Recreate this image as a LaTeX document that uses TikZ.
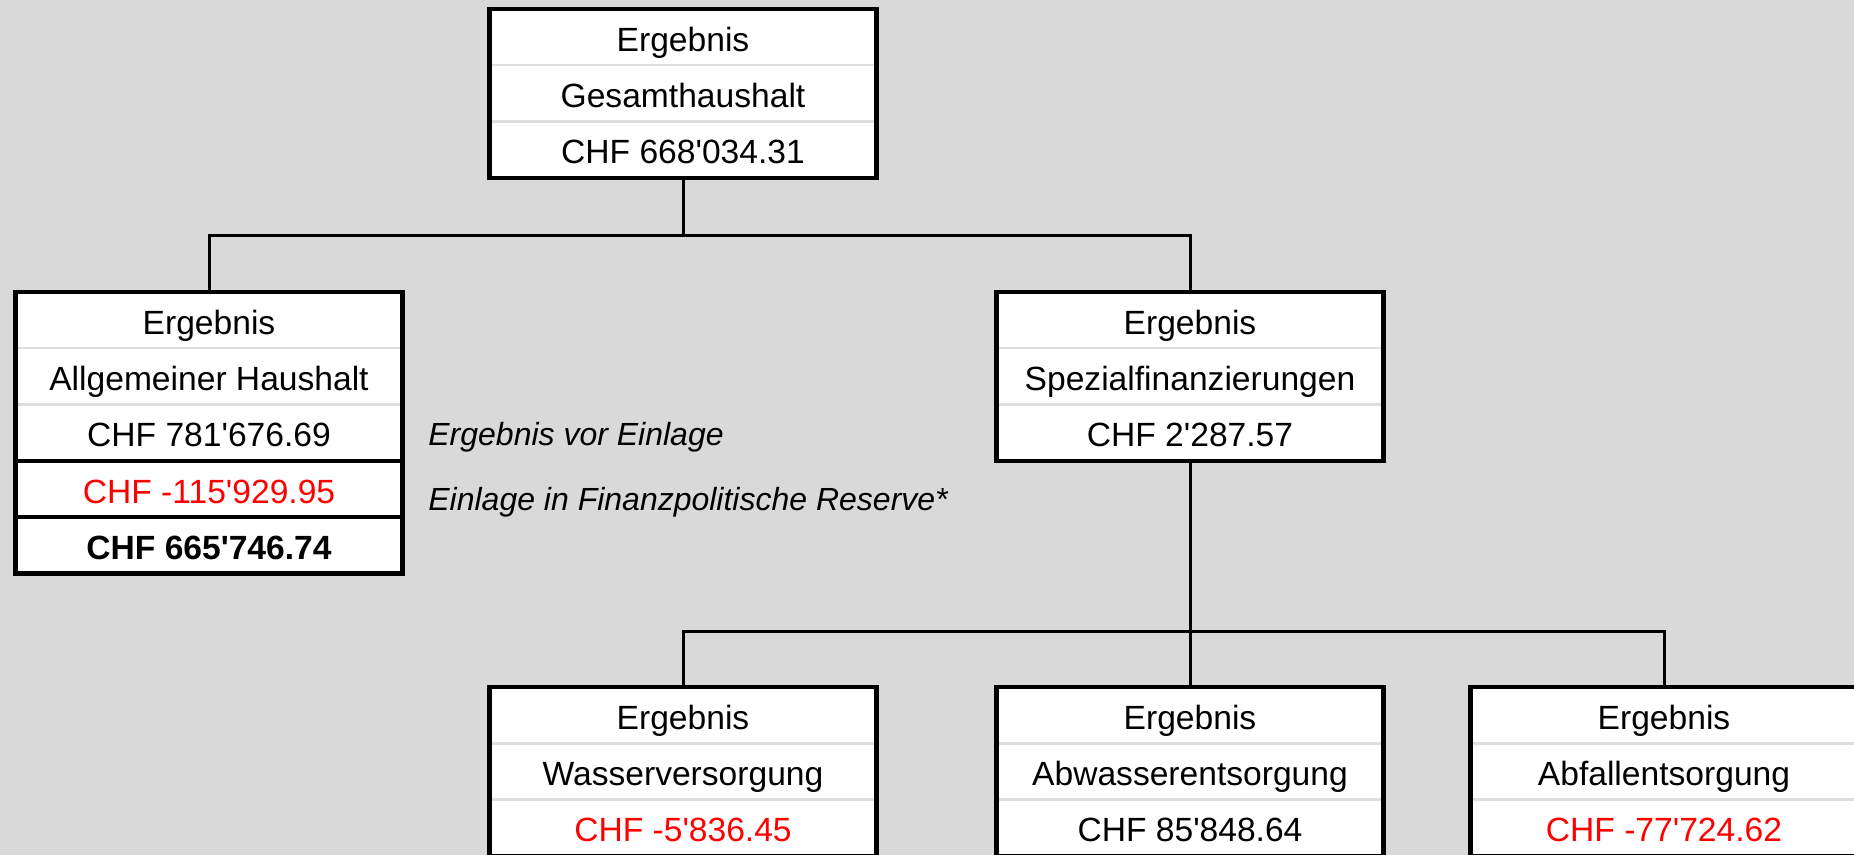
\documentclass[tikz,border=0pt]{standalone}
\usepackage{fontspec}
\setmainfont{Liberation Sans}[Ligatures=TeXOff]
\usetikzlibrary{positioning}
\definecolor{bggray}{HTML}{D9D9D9}
\definecolor{sepgray}{HTML}{DEDEDE}
\definecolor{minusred}{HTML}{FF0000}

\begin{document}
\begin{tikzpicture}[x=0.5pt,y=-0.5pt,
    cell/.style={draw=sepgray,line width=1.2pt,fill=white,minimum width=193.5pt,minimum height=28.15pt,inner sep=0pt,outer sep=0pt,text height=17pt,text depth=3pt,font=\fontsize{16.8}{20}\selectfont},
    neg/.style={cell,text=minusred},
    note/.style={inner sep=0pt,text height=16pt,text depth=3pt,font=\fontsize{16}{19}\selectfont\itshape},
    boxframe/.style={draw=black,line width=2.3pt},
    link/.style={draw=black,line width=1.5pt}]

            \useasboundingbox (0,0) rectangle (1854,855);
            \fill[bggray] (0,0) rectangle (1854,855);
            \clip (0,0) rectangle (1854,855);

            \node[cell, anchor=north] (g1) at (683,9) {Ergebnis};
            \node[cell] (g2) [below=0pt of g1] {Gesamthaushalt};
            \node[cell] (g3) [below=0pt of g2] {CHF 668'034.31};

            \node[cell, anchor=north] (a1) at (209,292) {Ergebnis};
            \node[cell] (a2) [below=0pt of a1] {Allgemeiner Haushalt};
            \node[cell] (a3) [below=0pt of a2] {CHF 781'676.69};
            \node[neg] (a4) [below=0pt of a3] {CHF -115'929.95};
            \node[cell] (a5) [below=0pt of a4] {\bfseries CHF 665'746.74};
            \node[note] (n1) [right=12.75pt of a3] {Ergebnis vor Einlage};
            \node[note] (n2) [right=12.75pt of a4, yshift=-4pt] {Einlage in Finanzpolitische Reserve*};

            \node[cell, anchor=north] (s1) at (1190,292) {Ergebnis};
            \node[cell] (s2) [below=0pt of s1] {Spezialfinanzierungen};
            \node[cell] (s3) [below=0pt of s2] {CHF 2'287.57};

            \node[cell, anchor=north] (w1) at (683,687) {Ergebnis};
            \node[cell] (w2) [below=0pt of w1] {Wasserversorgung};
            \node[neg] (w3) [below=0pt of w2] {CHF -5'836.45};

            \node[cell, anchor=north] (b1) at (1190,687) {Ergebnis};
            \node[cell] (b2) [below=0pt of b1] {Abwasserentsorgung};
            \node[cell] (b3) [below=0pt of b2] {CHF 85'848.64};

            \node[cell, anchor=north] (f1) at (1664,687) {Ergebnis};
            \node[cell] (f2) [below=0pt of f1] {Abfallentsorgung};
            \node[neg] (f3) [below=0pt of f2] {CHF -77'724.62};

            \coordinate (jt) at (683,236);
            \coordinate (jb) at (1190,632);

            \draw[link] (g3.south) -- (jt);
            \draw[link] (jt) -| (a1.north);
            \draw[link] (jt) -| (s1.north);
            \draw[link] (s3.south) -- (jb);
            \draw[link] (jb) -| (w1.north);
            \draw[link] (jb) -- (b1.north);
            \draw[link] (jb) -| (f1.north);

            \draw[boxframe] (g1.north west) rectangle (g3.south east);
            \draw[boxframe] (a1.north west) rectangle (a5.south east);
            \draw[boxframe] (a3.south west) -- (a3.south east);
            \draw[boxframe] (a4.south west) -- (a4.south east);
            \draw[boxframe] (s1.north west) rectangle (s3.south east);
            \draw[boxframe] (w1.north west) rectangle (w3.south east);
            \draw[boxframe] (b1.north west) rectangle (b3.south east);
            \draw[boxframe] (f1.north west) rectangle (f3.south east);

            ;
        \end{tikzpicture}
\end{document}
